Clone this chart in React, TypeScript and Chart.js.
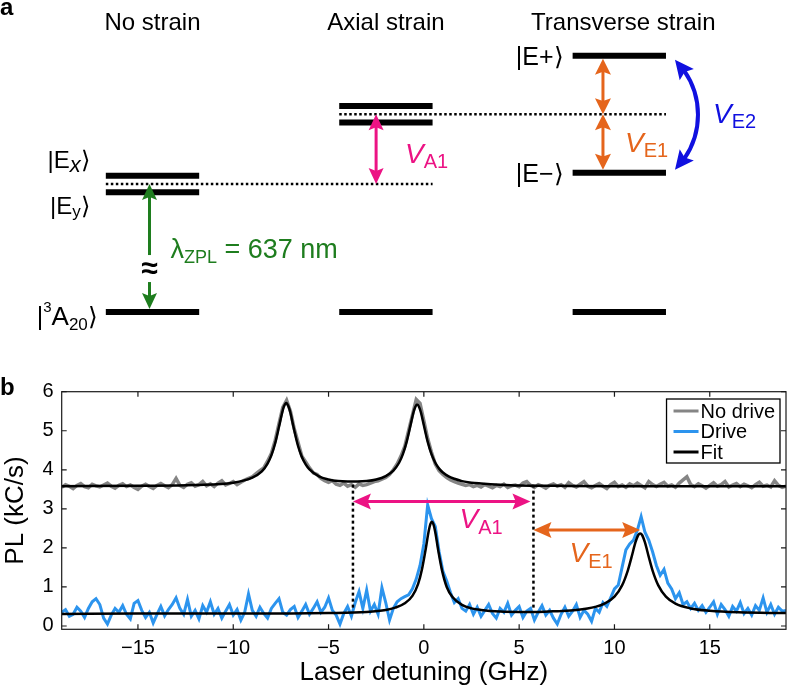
import React, { useEffect, useRef } from 'react';
import { Chart, registerables } from 'chart.js';

Chart.register(...registerables);

const FONT = '"Liberation Sans", Arial, Helvetica, sans-serif';
const PINK = '#EC1384';
const ORANGE = '#E5651C';
const BLUE_ARROW = '#1010E0';
const GREEN = '#1E7D1E';
const GRAY_TRACE = '#858585';
const BLUE_TRACE = '#2C94EE';

// ---------- Panel a: schematic energy levels (arbitrary energy units) ----------
const STRAIN_CASES = ['No strain', 'Axial strain', 'Transverse strain'];
const GROUND_LEVEL = [0, 0, 0];
const UPPER_LEVEL = [10.65, 16.1, 20.02];
const LOWER_LEVEL = [9.35, 14.8, 10.88];
const CENTER_LEVEL = [10, 15.45, 15.45];
const ZPL_BREAK = [2.34, 4.45];

// ---------- Panel b: PL vs laser detuning ----------
const DETUNING = [
  -19, -18.8, -18.6, -18.4, -18.2, -18, -17.8, -17.6, -17.4, -17.2,
  -17, -16.8, -16.6, -16.4, -16.2, -16, -15.8, -15.6, -15.4, -15.2,
  -15, -14.8, -14.6, -14.4, -14.2, -14, -13.8, -13.6, -13.4, -13.2,
  -13, -12.8, -12.6, -12.4, -12.2, -12, -11.8, -11.6, -11.4, -11.2,
  -11, -10.8, -10.6, -10.4, -10.2, -10, -9.8, -9.6, -9.4, -9.2,
  -9, -8.8, -8.6, -8.4, -8.2, -8, -7.8, -7.6, -7.4, -7.2,
  -7, -6.8, -6.6, -6.4, -6.2, -6, -5.8, -5.6, -5.4, -5.2,
  -5, -4.8, -4.6, -4.4, -4.2, -4, -3.8, -3.6, -3.4, -3.2,
  -3, -2.8, -2.6, -2.4, -2.2, -2, -1.8, -1.6, -1.4, -1.2,
  -1, -0.8, -0.6, -0.4, -0.2, 0, 0.2, 0.4, 0.6, 0.8,
  1, 1.2, 1.4, 1.6, 1.8, 2, 2.2, 2.4, 2.6, 2.8,
  3, 3.2, 3.4, 3.6, 3.8, 4, 4.2, 4.4, 4.6, 4.8,
  5, 5.2, 5.4, 5.6, 5.8, 6, 6.2, 6.4, 6.6, 6.8,
  7, 7.2, 7.4, 7.6, 7.8, 8, 8.2, 8.4, 8.6, 8.8,
  9, 9.2, 9.4, 9.6, 9.8, 10, 10.2, 10.4, 10.6, 10.8,
  11, 11.2, 11.4, 11.6, 11.8, 12, 12.2, 12.4, 12.6, 12.8,
  13, 13.2, 13.4, 13.6, 13.8, 14, 14.2, 14.4, 14.6, 14.8,
  15, 15.2, 15.4, 15.6, 15.8, 16, 16.2, 16.4, 16.6, 16.8,
  17, 17.2, 17.4, 17.6, 17.8, 18, 18.2, 18.4, 18.6, 18.8,
  19,
];

const NO_DRIVE = [
  3.55, 3.62, 3.58, 3.52, 3.60, 3.65, 3.57, 3.54, 3.63, 3.59,
  3.56, 3.61, 3.66, 3.58, 3.53, 3.60, 3.64, 3.57, 3.61, 3.55,
  3.50, 3.58, 3.63, 3.57, 3.52, 3.60, 3.65, 3.59, 3.54, 3.62,
  3.78, 3.60, 3.55, 3.63, 3.67, 3.58, 3.62, 3.70, 3.59, 3.64,
  3.57, 3.66, 3.72, 3.61, 3.65, 3.70, 3.62, 3.68, 3.74, 3.78,
  3.82, 3.90, 3.98, 4.05, 4.22, 4.42, 4.75, 5.18, 5.60, 5.78,
  5.50, 5.05, 4.70, 4.35, 4.20, 4.05, 3.92, 3.88, 3.78, 3.72,
  3.68, 3.72, 3.63, 3.60, 3.66, 3.58, 3.62, 3.55, 3.64, 3.60,
  3.62, 3.66, 3.70, 3.72, 3.76, 3.80, 3.88, 4.00, 4.15, 4.35,
  4.60, 5.00, 5.40, 5.80, 5.70, 5.25, 4.80, 4.45, 4.15, 3.98,
  3.88, 3.80, 3.74, 3.70, 3.66, 3.63, 3.60, 3.62, 3.57, 3.60,
  3.56, 3.62, 3.58, 3.54, 3.60, 3.57, 3.63, 3.55, 3.59, 3.61,
  3.57, 3.66, 3.70, 3.60, 3.55, 3.62, 3.58, 3.53, 3.60, 3.64,
  3.58, 3.62, 3.55, 3.67, 3.60, 3.56, 3.63, 3.70, 3.58, 3.54,
  3.60, 3.65, 3.58, 3.52, 3.62, 3.68, 3.57, 3.61, 3.55, 3.64,
  3.59, 3.66, 3.60, 3.54, 3.70, 3.62, 3.57, 3.63, 3.68, 3.58,
  3.61, 3.55, 3.66, 3.74, 3.82, 3.62, 3.57, 3.64, 3.59, 3.53,
  3.60, 3.67, 3.58, 3.62, 3.70, 3.56, 3.61, 3.65, 3.57, 3.63,
  3.59, 3.54, 3.62, 3.68, 3.58, 3.61, 3.56, 3.72, 3.60, 3.55,
  3.58,
];

const DRIVE = [
  0.35, 0.42, 0.25, 0.30, 0.48, 0.38, 0.22, 0.45, 0.62, 0.70,
  0.55, 0.20, 0.05, 0.28, 0.45, 0.35, 0.52, 0.30, 0.18, 0.58,
  0.65, 0.40, 0.22, 0.35, 0.08, 0.30, 0.50, 0.26, 0.42, 0.55,
  0.72, 0.45, 0.30, 0.68, 0.25, 0.40, 0.18, 0.52, 0.35, 0.62,
  0.30, 0.45, 0.20, 0.38, 0.55, 0.28, 0.42, 0.15, 0.35, 0.82,
  0.40, 0.25, 0.48, 0.32, 0.20, 0.45, 0.58, 0.70, 0.35, 0.28,
  0.42, 0.50, 0.22, 0.38, 0.55, 0.30, 0.45, 0.62, 0.35, 0.48,
  0.72, 0.40, 0.28, 0.05, 0.32, 0.50, 0.25, 0.60, 0.88, 0.45,
  0.92, 0.38, 0.55, 0.30, 0.98, 0.60, 0.15, 0.45, 0.62, 0.70,
  0.75, 0.80, 0.95, 1.20, 1.55, 2.10, 3.10, 2.75, 2.55, 1.90,
  1.40, 1.15, 0.85, 0.60, 0.70, 0.45, 0.38, 0.55, 0.30, 0.48,
  0.25, 0.40, 0.55, 0.32, 0.20, 0.45, 0.35, 0.58, 0.28, 0.40,
  0.50, 0.22, 0.38, 0.45, 0.15, 0.35, 0.52, 0.28, 0.40, 0.20,
  0.05, 0.30, 0.48, 0.25, 0.38, 0.55, 0.22, 0.40, 0.30, 0.12,
  0.45, 0.35, 0.60, 0.50, 0.72, 0.95, 1.05, 1.50, 1.95, 2.10,
  2.20, 2.45, 2.80, 2.40, 2.20, 1.90, 1.55, 1.30, 1.45, 1.10,
  0.95, 0.70, 0.85, 0.55, 0.62, 0.45, 0.58, 0.40, 0.52, 0.35,
  0.48, 0.62, 0.30, 0.55, 0.42, 0.25, 0.50, 0.38, 0.60, 0.32,
  0.45, 0.28, 0.52, 0.40, 0.72, 0.35, 0.55, 0.30, 0.48, 0.38,
  0.40,
];

const FIT_NO_DRIVE_X = [
  -19, -15, -12, -10, -9, -8.5, -8.2, -8, -7.8, -7.6, -7.45, -7.35, -7.22, -7.1, -7,
  -6.85, -6.6, -6.4, -6.2, -6, -5.5, -5, -4.5, -4, -3.5, -3, -2.5, -2, -1.6, -1.3,
  -1.1, -0.9, -0.7, -0.55, -0.45, -0.35, -0.25, -0.15, 0, 0.2, 0.4, 0.6, 0.8, 1, 1.3,
  1.6, 2, 2.5, 3, 4, 5, 7, 10, 14, 19,
];
const FIT_NO_DRIVE_Y = [
  3.58, 3.59, 3.61, 3.67, 3.80, 3.96, 4.16, 4.37, 4.68, 5.10, 5.43, 5.61, 5.71, 5.62, 5.46,
  5.12, 4.61, 4.33, 4.14, 4.01, 3.83, 3.75, 3.71, 3.70, 3.70, 3.71, 3.75, 3.84, 3.98, 4.18,
  4.40, 4.72, 5.14, 5.46, 5.61, 5.67, 5.61, 5.46, 5.14, 4.72, 4.40, 4.18, 4.03, 3.93, 3.83,
  3.77, 3.71, 3.67, 3.65, 3.62, 3.60, 3.59, 3.58, 3.58, 3.58,
];
const FIT_DRIVE_X = [
  -19, -15, -10, -7, -5, -3, -2, -1.5, -1, -0.6, -0.3, -0.1, 0.1, 0.25, 0.35, 0.42, 0.5,
  0.6, 0.75, 0.95, 1.2, 1.5, 2, 2.5, 3, 4, 5, 6, 7, 8, 9, 9.5, 10, 10.4, 10.7, 10.9, 11.1,
  11.25, 11.35, 11.45, 11.6, 11.8, 12, 12.3, 12.7, 13.2, 14, 15, 16.5, 19,
];
const FIT_DRIVE_Y = [
  0.31, 0.32, 0.32, 0.32, 0.33, 0.36, 0.41, 0.47, 0.58, 0.77, 1.08, 1.45, 1.98, 2.42, 2.62, 2.67, 2.61,
  2.40, 1.95, 1.43, 1.00, 0.74, 0.54, 0.45, 0.41, 0.37, 0.36, 0.36, 0.38, 0.41, 0.49, 0.58, 0.75, 1.04, 1.42, 1.77, 2.14,
  2.33, 2.37, 2.33, 2.14, 1.77, 1.42, 1.04, 0.75, 0.57, 0.45, 0.39, 0.35, 0.33,
];

const X_TICKS = [-15, -10, -5, 0, 5, 10, 15];
const Y_TICKS = [0, 1, 2, 3, 4, 5, 6];
// detuning of the V_A1 / V_E1 markers (GHz) and the PL levels they join
const SPLIT_DETUNING = [-3.72, 5.75, 11.35];
const MARKER_PL = [3.62, 0.41];
const ARROW_PL = [3.19, 2.46];

// ---------- drawing helpers ----------
function drawHead(ctx: any, tx: number, ty: number, ux: number, uy: number, len: number, half: number) {
  const bx = tx - ux * len, by = ty - uy * len;
  const nx = -uy, ny = ux;
  const notch = len * 0.18;
  ctx.beginPath();
  ctx.moveTo(tx, ty);
  ctx.lineTo(bx + nx * half, by + ny * half);
  ctx.lineTo(bx + ux * notch, by + uy * notch);
  ctx.lineTo(bx - nx * half, by - ny * half);
  ctx.closePath();
  ctx.fill();
}

function drawArrow(ctx: any, x1: number, y1: number, x2: number, y2: number, color: string, lw: number,
  len: number, half: number, startHead: boolean, endHead: boolean) {
  const dx = x2 - x1, dy = y2 - y1, L = Math.hypot(dx, dy);
  const ux = dx / L, uy = dy / L;
  ctx.save();
  ctx.strokeStyle = color; ctx.fillStyle = color; ctx.lineWidth = lw; ctx.setLineDash([]);
  ctx.lineCap = 'butt';
  const sx = startHead ? x1 + ux * len * 0.7 : x1, sy = startHead ? y1 + uy * len * 0.7 : y1;
  const ex = endHead ? x2 - ux * len * 0.7 : x2, ey = endHead ? y2 - uy * len * 0.7 : y2;
  ctx.beginPath(); ctx.moveTo(sx, sy); ctx.lineTo(ex, ey); ctx.stroke();
  if (endHead) drawHead(ctx, x2, y2, ux, uy, len, half);
  if (startHead) drawHead(ctx, x1, y1, -ux, -uy, len, half);
  ctx.restore();
}

type Seg = { t: string; size: number; style?: string; dy?: number };
function drawRich(ctx: any, segs: Seg[], x: number, y: number, align: string, color: string) {
  ctx.save();
  ctx.fillStyle = color; ctx.textBaseline = 'alphabetic'; ctx.textAlign = 'left';
  const fontOf = (s: Seg) => `${s.style ?? ''} ${s.size}px ${FONT}`;
  let w = 0;
  for (const s of segs) { ctx.font = fontOf(s); w += ctx.measureText(s.t).width; }
  let cx = align === 'left' ? x : align === 'right' ? x - w : x - w / 2;
  for (const s of segs) {
    ctx.font = fontOf(s);
    ctx.fillText(s.t, cx, y + (s.dy ?? 0));
    cx += ctx.measureText(s.t).width;
  }
  ctx.restore();
}

const LEVEL_HALF = 0.2;
const KET = '\u27E9';

const diagramPlugin = {
  id: 'diagramDecor',
  afterDatasetsDraw(chart: any) {
    const { ctx } = chart;
    const xs = chart.scales.x, ys = chart.scales.y;
    const px = (v: number) => xs.getPixelForValue(v);
    const py = (v: number) => ys.getPixelForValue(v);
    ctx.save();
    ctx.fillStyle = '#000';
    ctx.font = `bold 24px ${FONT}`;
    ctx.textAlign = 'left'; ctx.textBaseline = 'alphabetic';
    ctx.fillText('a', 0, 15);
    ctx.font = `24px ${FONT}`;
    ctx.textAlign = 'center';
    STRAIN_CASES.forEach((name, i) => ctx.fillText(name, px(i) + (i === 2 ? 4 : 0), 30));
    ctx.restore();

    const left0 = px(0 - LEVEL_HALF);
    drawRich(ctx, [{ t: '|E', size: 24 }, { t: 'x', size: 22, style: 'italic', dy: 4 }, { t: KET, size: 24 }],
      left0 - 16, py(UPPER_LEVEL[0]) - 8, 'right', '#000');
    drawRich(ctx, [{ t: '|E', size: 24 }, { t: 'y', size: 17, dy: 3 }, { t: KET, size: 24 }],
      left0 - 16, py(LOWER_LEVEL[0]) + 22, 'right', '#000');
    drawRich(ctx, [{ t: '|', size: 25 }, { t: '3', size: 15, dy: -13 }, { t: 'A', size: 26 }, { t: '20', size: 17, dy: 5 }, { t: KET, size: 25 }],
      left0 - 8, py(GROUND_LEVEL[0]) + 13, 'right', '#000');
    const left2 = px(2 - LEVEL_HALF);
    drawRich(ctx, [{ t: '|E+', size: 25 }, { t: KET, size: 25 }], left2 - 9, py(UPPER_LEVEL[2]) + 9, 'right', '#000');
    drawRich(ctx, [{ t: '|E\u2212', size: 25 }, { t: KET, size: 25 }], left2 - 9, py(LOWER_LEVEL[2]) + 9, 'right', '#000');

    // green ZPL arrow with axis break
    const gx = px(0) - 3;
    drawArrow(ctx, gx, py(ZPL_BREAK[1]), gx, py(CENTER_LEVEL[0]), GREEN, 3, 16, 7.5, false, true);
    drawArrow(ctx, gx, py(ZPL_BREAK[0]), gx, py(GROUND_LEVEL[0]) - 3, GREEN, 3, 16, 7.5, false, true);
    ctx.save();
    ctx.fillStyle = '#000'; ctx.font = `bold 30px ${FONT}`;
    ctx.textAlign = 'center'; ctx.textBaseline = 'middle';
    ctx.fillText('\u2248', gx, py((ZPL_BREAK[0] + ZPL_BREAK[1]) / 2) + 1);
    ctx.restore();
    drawRich(ctx, [{ t: '\u03BB', size: 27 }, { t: 'ZPL', size: 18, dy: 5 }, { t: ' = 637 nm', size: 27 }],
      px(0) + 18, py(GROUND_LEVEL[0]) - 54, 'left', GREEN);

    // pink axial arrow
    const ax = px(0.958);
    drawArrow(ctx, ax, py(CENTER_LEVEL[1]), ax, py(CENTER_LEVEL[0]), PINK, 3, 16, 7.5, true, true);
    drawRich(ctx, [{ t: 'V', size: 28, style: 'italic' }, { t: 'A1', size: 20, dy: 5 }],
      ax + 29, py(CENTER_LEVEL[0]) - 21, 'left', PINK);

    // orange transverse arrows
    const ox = px(1.93);
    drawArrow(ctx, ox, py(UPPER_LEVEL[2]) + 3, ox, py(CENTER_LEVEL[2]), ORANGE, 3, 16, 8, true, true);
    drawArrow(ctx, ox, py(CENTER_LEVEL[2]), ox, py(LOWER_LEVEL[2]) - 3, ORANGE, 3, 16, 8, true, true);
    drawRich(ctx, [{ t: 'V', size: 28, style: 'italic' }, { t: 'E1', size: 20, dy: 5 }],
      ox + 22, py(LOWER_LEVEL[2]) - 21, 'left', ORANGE);

    // blue curved arrow
    const x1 = px(2 + LEVEL_HALF) + 9, y1 = py(UPPER_LEVEL[2]) + 4;
    const y2 = py(LOWER_LEVEL[2]) - 3;
    const bulge = 23;
    const h = (y2 - y1) / 2, mid = (y1 + y2) / 2;
    const r = (h * h + bulge * bulge) / (2 * bulge);
    const cx = x1 + bulge - r;
    const th = Math.atan2(y1 - mid, x1 - cx);
    const headLen = 19, headHalf = 9;
    const dth = headLen / r;
    ctx.save();
    ctx.strokeStyle = BLUE_ARROW; ctx.fillStyle = BLUE_ARROW; ctx.lineWidth = 4;
    ctx.beginPath();
    ctx.arc(cx, mid, r, th + dth * 0.75, -th - dth * 0.75);
    ctx.stroke();
    for (const sgn of [1, -1]) {
      const tipA = sgn * th;
      const baseA = sgn * (th + dth);
      const tx = cx + r * Math.cos(tipA), ty = mid + r * Math.sin(tipA);
      const bx = cx + r * Math.cos(baseA), by = mid + r * Math.sin(baseA);
      const L = Math.hypot(tx - bx, ty - by);
      drawHead(ctx, tx, ty, (tx - bx) / L, (ty - by) / L, headLen, headHalf);
    }
    ctx.restore();
    drawRich(ctx, [{ t: 'V', size: 28, style: 'italic' }, { t: 'E2', size: 20, dy: 5 }],
      x1 + bulge + 15, mid + 8, 'left', BLUE_ARROW);
  },
};

const spectrumPlugin = {
  id: 'spectrumDecor',
  afterDatasetsDraw(chart: any) {
    const { ctx } = chart;
    const xs = chart.scales.x, ys = chart.scales.y;
    const X = (v: number) => xs.getPixelForValue(v);
    const Y = (v: number) => ys.getPixelForValue(v);
    ctx.save();
    ctx.strokeStyle = '#000'; ctx.lineWidth = 2.5; ctx.setLineDash([3, 3]);
    for (const d of [SPLIT_DETUNING[0], SPLIT_DETUNING[1]]) {
      ctx.beginPath();
      ctx.moveTo(X(d), Y(MARKER_PL[0]));
      ctx.lineTo(X(d), Y(MARKER_PL[1]));
      ctx.stroke();
    }
    ctx.restore();
    drawArrow(ctx, X(SPLIT_DETUNING[0]), Y(ARROW_PL[0]), X(SPLIT_DETUNING[1]) - 3, Y(ARROW_PL[0]), PINK, 3, 18, 8, true, true);
    drawArrow(ctx, X(SPLIT_DETUNING[1]), Y(ARROW_PL[1]), X(SPLIT_DETUNING[2]), Y(ARROW_PL[1]), ORANGE, 3, 18, 8, true, true);
    drawRich(ctx, [{ t: 'V', size: 28, style: 'italic' }, { t: 'A1', size: 20, dy: 6 }], X(1.87), Y(2.51), 'left', PINK);
    drawRich(ctx, [{ t: 'V', size: 28, style: 'italic' }, { t: 'E1', size: 20, dy: 6 }], X(7.64), Y(1.64), 'left', ORANGE);
  },
  afterDraw(chart: any) {
    const { ctx, chartArea: a } = chart;
    const xs = chart.scales.x, ys = chart.scales.y;
    ctx.save();
    ctx.strokeStyle = '#1a1a1a'; ctx.lineWidth = 1.2; ctx.setLineDash([]);
    ctx.beginPath();
    for (const t of xs.ticks) {
      const p = xs.getPixelForValue(t.value);
      ctx.moveTo(p, a.bottom); ctx.lineTo(p, a.bottom - 5);
      ctx.moveTo(p, a.top); ctx.lineTo(p, a.top + 5);
    }
    for (const t of ys.ticks) {
      const p = ys.getPixelForValue(t.value);
      ctx.moveTo(a.left, p); ctx.lineTo(a.left + 5, p);
      ctx.moveTo(a.right, p); ctx.lineTo(a.right - 5, p);
    }
    ctx.stroke();
    ctx.strokeRect(a.left, a.top, a.right - a.left, a.bottom - a.top);

    // legend
    const seen = new Set<string>();
    const entries: { label: string; color: string }[] = [];
    chart.data.datasets.forEach((ds: any) => {
      if (!seen.has(ds.label)) { seen.add(ds.label); entries.push({ label: ds.label, color: ds.borderColor }); }
    });
    ctx.font = `20px ${FONT}`;
    const tw = Math.max(...entries.map((e) => ctx.measureText(e.label).width));
    const padL = 7, lineL = 25, gap = 2, padR = 5, rowH = 20.5;
    const w = padL + lineL + gap + tw + padR;
    const hgt = 64;
    const bx = a.right - 6 - w, by = a.top + 7.3;
    ctx.fillStyle = '#fff';
    ctx.fillRect(bx, by, w, hgt);
    ctx.strokeStyle = '#000'; ctx.lineWidth = 1.3;
    ctx.strokeRect(bx, by, w, hgt);
    entries.forEach((e, i) => {
      const yy = by + 12 + i * rowH;
      ctx.strokeStyle = e.color; ctx.lineWidth = 3;
      ctx.beginPath(); ctx.moveTo(bx + padL, yy); ctx.lineTo(bx + padL + lineL, yy); ctx.stroke();
      ctx.fillStyle = '#000'; ctx.textAlign = 'left'; ctx.textBaseline = 'middle';
      ctx.fillText(e.label, bx + padL + lineL + gap, yy + 1);
    });

    ctx.fillStyle = '#000'; ctx.font = `bold 24px ${FONT}`;
    ctx.textAlign = 'left'; ctx.textBaseline = 'alphabetic';
    ctx.fillText('b', 0, 25);
    ctx.restore();
  },
};

const fmtTick = (v: any) => (Number(v) < 0 ? '\u2212' + Math.abs(Number(v)) : String(v));

export default function App() {
  const refA = useRef<HTMLCanvasElement>(null);
  const refB = useRef<HTMLCanvasElement>(null);

  useEffect(() => {
    const levelDataset = (col: number, energy: number) => ({
      data: [{ x: col - LEVEL_HALF, y: energy }, { x: col + LEVEL_HALF, y: energy }],
      borderColor: '#000', borderWidth: 6, pointRadius: 0, borderCapStyle: 'butt',
    });
    const levelDatasets: any[] = [];
    STRAIN_CASES.forEach((_, i) => {
      levelDatasets.push(levelDataset(i, GROUND_LEVEL[i]));
      levelDatasets.push(levelDataset(i, UPPER_LEVEL[i]));
      levelDatasets.push(levelDataset(i, LOWER_LEVEL[i]));
    });
    const dotted = (fromCol: number, toCol: number, energy: number) => ({
      data: [{ x: fromCol - LEVEL_HALF, y: energy }, { x: toCol + LEVEL_HALF, y: energy }],
      borderColor: '#000', borderWidth: 2.5, borderDash: [2.5, 2.5], pointRadius: 0, borderCapStyle: 'butt',
    });
    levelDatasets.push(dotted(0, 1, CENTER_LEVEL[0]));
    levelDatasets.push(dotted(1, 2, CENTER_LEVEL[1]));

    const chartA = new Chart(refA.current as HTMLCanvasElement, {
      type: 'line',
      data: { datasets: levelDatasets },
      options: {
        animation: false, responsive: true, maintainAspectRatio: false, events: [],
        layout: { padding: 0 },
        plugins: { legend: { display: false }, tooltip: { enabled: false } },
        scales: {
          x: { type: 'linear', display: false, min: -0.6534, max: 2.7185 },
          y: { type: 'linear', display: false, min: -4.531, max: 24.375 },
        },
      } as any,
      plugins: [diagramPlugin],
    });

    const pts = (xs: number[], ys: number[]) => xs.map((x, i) => ({ x, y: ys[i] }));
    const chartB = new Chart(refB.current as HTMLCanvasElement, {
      type: 'line',
      data: {
        datasets: [
          { label: 'No drive', data: pts(DETUNING, NO_DRIVE), borderColor: GRAY_TRACE, borderWidth: 3.5, pointRadius: 0, order: 2 },
          { label: 'Drive', data: pts(DETUNING, DRIVE), borderColor: BLUE_TRACE, borderWidth: 3, pointRadius: 0, order: 2 },
          { label: 'Fit', data: pts(FIT_NO_DRIVE_X, FIT_NO_DRIVE_Y), borderColor: '#000', borderWidth: 2.5, pointRadius: 0, cubicInterpolationMode: 'monotone', order: 1 },
          { label: 'Fit', data: pts(FIT_DRIVE_X, FIT_DRIVE_Y), borderColor: '#000', borderWidth: 2.5, pointRadius: 0, cubicInterpolationMode: 'monotone', order: 1 },
        ],
      },
      options: {
        animation: false, responsive: true, maintainAspectRatio: false, events: [],
        layout: { padding: { top: 21.7, right: 1, left: 0, bottom: 0 } },
        plugins: { legend: { display: false }, tooltip: { enabled: false } },
        scales: {
          x: {
            type: 'linear', min: -19, max: 19,
            afterBuildTicks: (s: any) => { s.ticks = X_TICKS.map((v) => ({ value: v })); },
            afterFit: (s: any) => { s.height = 56.7; },
            grid: { display: false, drawTicks: false },
            border: { display: false },
            ticks: { font: { family: FONT, size: 20 }, color: '#000', padding: 7, maxRotation: 0, callback: fmtTick },
            title: { display: true, text: 'Laser detuning (GHz)', font: { family: FONT, size: 26, lineHeight: 1.0 }, color: '#000', padding: 0 },
          },
          y: {
            type: 'linear', min: -0.085, max: 6,
            afterBuildTicks: (s: any) => { s.ticks = Y_TICKS.map((v) => ({ value: v })); },
            afterFit: (s: any) => { s.width = 61.7; },
            grid: { display: false, drawTicks: false },
            border: { display: false },
            ticks: { font: { family: FONT, size: 20 }, color: '#000', padding: 8, callback: fmtTick },
            title: { display: true, text: 'PL (kC/s)', font: { family: FONT, size: 26 }, color: '#000', padding: 0 },
          },
        },
      } as any,
      plugins: [spectrumPlugin],
    });

    return () => { chartA.destroy(); chartB.destroy(); };
  }, []);

  return (
    <div style={{ position: 'absolute', left: 0, top: 0, width: 787, height: 686, background: '#fff' }}>
      <div style={{ position: 'absolute', left: 0, top: 0, width: 787, height: 370 }}>
        <canvas ref={refA} />
      </div>
      <div style={{ position: 'absolute', left: 0, top: 370, width: 787, height: 316 }}>
        <canvas ref={refB} />
      </div>
    </div>
  );
}
